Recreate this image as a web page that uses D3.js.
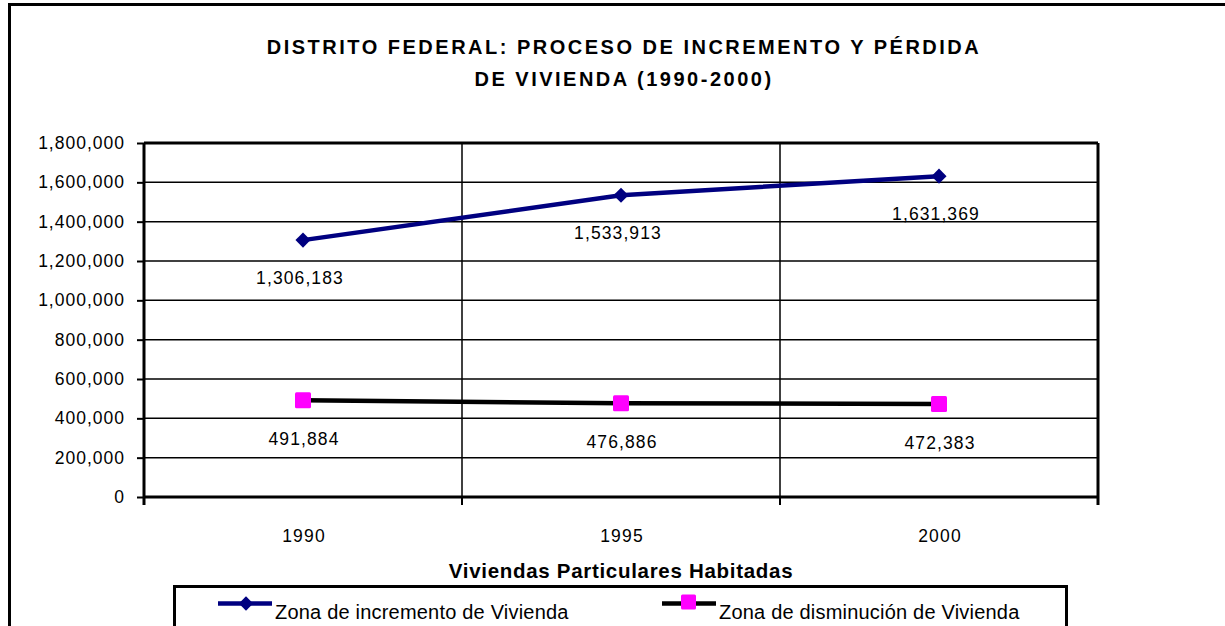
<!DOCTYPE html>
<html>
<head>
<meta charset="utf-8">
<script src="https://cdn.jsdelivr.net/npm/d3@7"></script>
<style>
  body { margin: 0; background: #fff; }
  svg { display: block; font-family: "Liberation Sans", Arial, sans-serif; }
</style>
</head>
<body>
<div id="chart"></div>
<script>
const years = ["1990", "1995", "2000"];
const incremento = [1306183, 1533913, 1631369];
const disminucion = [491884, 476886, 472383];
const yTicks = [0, 200000, 400000, 600000, 800000, 1000000, 1200000, 1400000, 1600000, 1800000];
const titleLines = ["DISTRITO FEDERAL: PROCESO DE INCREMENTO Y PÉRDIDA", "DE VIVIENDA (1990-2000)"];
const seriesNames = ["Zona de incremento de Vivienda", "Zona de disminución de Vivienda"];

const W = 1225, H = 626;
const MARGIN = { TOP: 143, LEFT: 144, RIGHT: 127, BOTTOM: 129 };
const WIDTH = W - MARGIN.LEFT - MARGIN.RIGHT;
const HEIGHT = H - MARGIN.TOP - MARGIN.BOTTOM;
const fmt = d3.format(",");

const svg = d3.select("#chart").append("svg")
  .attr("width", W).attr("height", H);

// outer frame
svg.append("rect")
  .attr("x", 9.5).attr("y", 4.5)
  .attr("width", W).attr("height", H)
  .attr("fill", "none").attr("stroke", "#000").attr("stroke-width", 3);

// title
svg.append("text")
  .attr("text-anchor", "middle")
  .attr("font-weight", "bold").attr("font-size", 20)
  .attr("letter-spacing", 2.5)
  .selectAll("tspan").data(titleLines).enter().append("tspan")
    .attr("x", 624).attr("y", (d, i) => 54 + i * 32)
    .text(d => d);

const g = svg.append("g")
  .attr("transform", `translate(${MARGIN.LEFT}, ${MARGIN.TOP})`);

const x = d3.scaleBand().domain(years).range([0, WIDTH]).padding(0);
const y = d3.scaleLinear().domain([0, 1800000]).range([HEIGHT, 0]);
const cx = d => x(d) + x.bandwidth() / 2;

// horizontal gridlines
g.append("g").selectAll("line").data(yTicks.slice(1)).enter().append("line")
  .attr("x1", 0).attr("x2", WIDTH)
  .attr("y1", d => y(d)).attr("y2", d => y(d))
  .attr("stroke", "#000").attr("stroke-width", d => d === 1800000 ? 3 : 1.5);

// vertical gridlines at category boundaries
g.append("g").selectAll("line").data(years.slice(1)).enter().append("line")
  .attr("x1", d => x(d)).attr("x2", d => x(d))
  .attr("y1", 0).attr("y2", HEIGHT)
  .attr("stroke", "#000").attr("stroke-width", 1.5);

// right border
g.append("line")
  .attr("x1", WIDTH).attr("x2", WIDTH).attr("y1", 0).attr("y2", HEIGHT + 8)
  .attr("stroke", "#000").attr("stroke-width", 3);

// y axis
const yAxis = g.append("g")
  .call(d3.axisLeft(y).tickValues(yTicks).tickFormat(fmt).tickSize(7).tickPadding(12));
yAxis.select(".domain").attr("stroke-width", 3).attr("d", `M0,${HEIGHT + 8}V0`);
yAxis.selectAll(".tick line").attr("stroke-width", 2);
yAxis.selectAll("text")
  .attr("font-size", 17.5).attr("letter-spacing", 1)
  .attr("font-family", "Liberation Sans, Arial, sans-serif");

// x axis line and boundary ticks
g.append("line")
  .attr("x1", 0).attr("x2", WIDTH).attr("y1", HEIGHT).attr("y2", HEIGHT)
  .attr("stroke", "#000").attr("stroke-width", 3);
g.append("g").selectAll("line").data(years.slice(1)).enter().append("line")
  .attr("x1", d => x(d)).attr("x2", d => x(d))
  .attr("y1", HEIGHT).attr("y2", HEIGHT + 8)
  .attr("stroke", "#000").attr("stroke-width", 2);

// x labels
g.append("g").selectAll("text").data(years).enter().append("text")
  .attr("x", d => cx(d) + 1).attr("y", HEIGHT + 45)
  .attr("text-anchor", "middle").attr("font-size", 17.5).attr("letter-spacing", 1.2)
  .text(d => d);

// x axis title
svg.append("text")
  .attr("x", 621).attr("y", 578)
  .attr("text-anchor", "middle").attr("font-weight", "bold").attr("font-size", 20.5)
  .attr("letter-spacing", 0.7)
  .text("Viviendas Particulares Habitadas");

const line = d3.line().x((d, i) => cx(years[i])).y(d => y(d));

// series 1
g.append("path").datum(incremento)
  .attr("d", line).attr("fill", "none")
  .attr("stroke", "#000080").attr("stroke-width", 4.5);
g.append("g").selectAll("path").data(incremento).enter().append("path")
  .attr("d", d3.symbol(d3.symbolDiamond2, 145))
  .attr("transform", (d, i) => `translate(${cx(years[i])}, ${y(d)})`)
  .attr("fill", "#000080");

// series 2
g.append("path").datum(disminucion)
  .attr("d", line).attr("fill", "none")
  .attr("stroke", "#000").attr("stroke-width", 4.5);
g.append("g").selectAll("rect").data(disminucion).enter().append("rect")
  .attr("x", (d, i) => cx(years[i]) - 8).attr("y", d => y(d) - 8)
  .attr("width", 16).attr("height", 16).attr("rx", 1.5)
  .attr("fill", "#ff00ff");

// data labels below points
const labelGroup = g.append("g").attr("font-size", 17.5).attr("text-anchor", "middle").attr("letter-spacing", 1.1);
labelGroup.selectAll(".l1").data(incremento).enter().append("text")
  .attr("x", (d, i) => cx(years[i]) - 3).attr("y", d => y(d) + 44)
  .text(fmt);
labelGroup.selectAll(".l2").data(disminucion).enter().append("text")
  .attr("x", (d, i) => cx(years[i]) + 1).attr("y", d => y(d) + 45)
  .text(fmt);

// legend
const legend = svg.append("g").attr("transform", "translate(174.5, 586.5)");
legend.append("rect")
  .attr("width", 892).attr("height", 80)
  .attr("fill", "none").attr("stroke", "#000").attr("stroke-width", 3);
const items = [
  { name: seriesNames[0], color: "#000080", x: 43.5, marker: "diamond" },
  { name: seriesNames[1], color: "#000", x: 487.5, marker: "square" }
];
items.forEach(it => {
  const lg = legend.append("g").attr("transform", `translate(${it.x}, 17)`);
  lg.append("line").attr("x1", 0).attr("x2", 54).attr("y1", 0).attr("y2", 0)
    .attr("stroke", it.color).attr("stroke-width", 4.5);
  if (it.marker === "diamond") {
    lg.append("path").attr("d", d3.symbol(d3.symbolDiamond2, 130))
      .attr("transform", "translate(28,0)").attr("fill", "#000080");
  } else {
    lg.append("rect").attr("x", 19).attr("y", -9).attr("width", 15).attr("height", 15)
      .attr("rx", 1.5).attr("fill", "#ff00ff");
  }
  lg.append("text").attr("x", 57).attr("y", 15)
    .attr("font-size", 20).attr("letter-spacing", 0.2)
    .text(it.name);
});
</script>
</body>
</html>
